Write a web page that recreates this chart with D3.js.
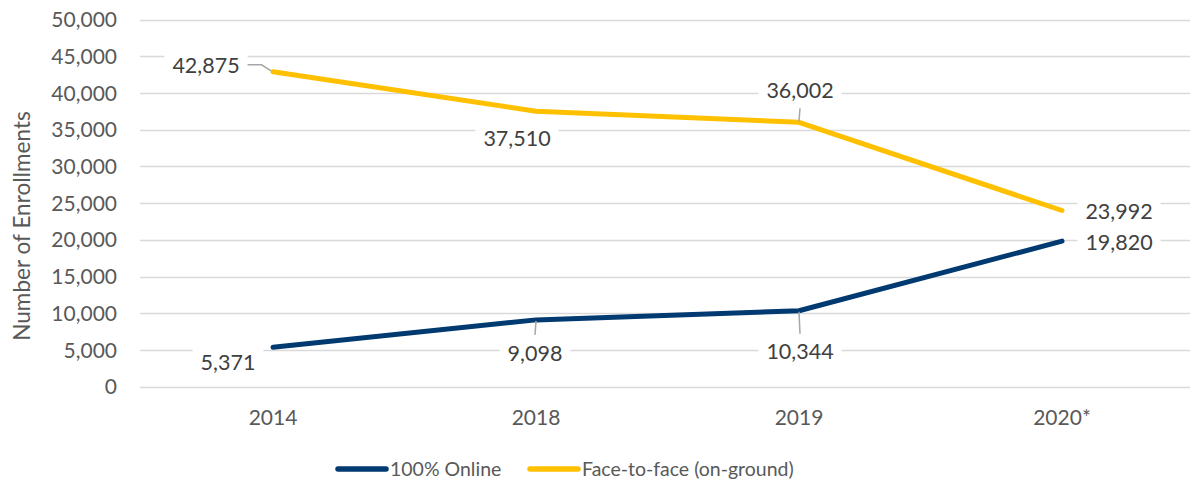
<!DOCTYPE html>
<html><head><meta charset="utf-8">
<script src="https://cdn.jsdelivr.net/npm/d3@7"></script>
<style>body{margin:0;background:#fff;} svg text{font-family:Lato,"Open Sans",sans-serif;}</style>
</head><body><svg id="c" width="1190" height="485"></svg>
<script>
const categories = ["2014", "2018", "2019", "2020*"];
const online = [5371, 9098, 10344, 19820];
const faceToFace = [42875, 37510, 36002, 23992];
const yTicks = [0, 5000, 10000, 15000, 20000, 25000, 30000, 35000, 40000, 45000, 50000];
const seriesNames = ["100% Online", "Face-to-face (on-ground)"];
const seriesColors = ["#003a70", "#ffc000"];

// label placement (layout only): offset of label centre from its point
const onlineLabelPlace = [{dx:-45,dy:15,leader:false},{dx:-1,dy:33,leader:true},{dx:1,dy:41,leader:true},{dx:57,dy:1,leader:false}];
const f2fLabelPlace = [{dx:-67,dy:-7,leader:true},{dx:-19,dy:27,leader:false},{dx:1,dy:-32,leader:true},{dx:57,dy:1,leader:false}];

const svg = d3.select("#c");
const gridLayer = svg.append("g");
const boxLayer = svg.append("g");
const lineLayer = svg.append("g");
const labelLayer = svg.append("g");
const x = d3.scaleBand().domain(categories).range([141.5, 1193.5]).padding(0);
const y = d3.scaleLinear().domain([0, 50000]).range([386.7, 19.5]);
const cx = c => x(c) + x.bandwidth() / 2;
const fmt = d3.format(",");

// gridlines
gridLayer.selectAll("line").data(yTicks).join("line")
  .attr("x1", 140).attr("x2", 1190)
  .attr("y1", d => Math.round(y(d)) + 0.5).attr("y2", d => Math.round(y(d)) + 0.5)
  .attr("stroke", "#d9d9d9").attr("stroke-width", 1.5);

// y tick labels
svg.append("g").selectAll("text").data(yTicks).join("text")
  .attr("x", 117).attr("y", d => y(d)).attr("dy", "0.36em")
  .attr("text-anchor", "end").attr("font-size", 21).attr("fill", "#595959")
  .text(d => fmt(d));

// x labels
svg.append("g").selectAll("text").data(categories).join("text")
  .attr("x", d => cx(d)).attr("y", 417).attr("dy", "0.36em")
  .attr("text-anchor", "middle").attr("font-size", 21).attr("fill", "#595959")
  .text(d => d);

// axis title
svg.append("text").attr("transform", "translate(22,226) rotate(-90)")
  .attr("dy", "0.36em").attr("text-anchor", "middle")
  .attr("font-size", 22.6).attr("fill", "#595959").text("Number of Enrollments");

const series = [online, faceToFace];
const places = [onlineLabelPlace, f2fLabelPlace];
const line = d3.line().x((d, i) => cx(categories[i])).y(d => y(d));

series.forEach((vals, si) => {
  lineLayer.append("path").datum(vals).attr("d", line)
    .attr("fill", "none").attr("stroke", seriesColors[si]).attr("stroke-width", 5)
    .attr("stroke-linejoin", "round").attr("stroke-linecap", "round");
});

// data labels
series.forEach((vals, si) => {
  vals.forEach((v, i) => {
    const p = places[si][i];
    const px = cx(categories[i]), py = y(v);
    const lx = px + p.dx, ly = py + p.dy;
    const t = labelLayer.append("text").attr("x", lx).attr("y", ly).attr("dy", "0.36em")
      .attr("text-anchor", "middle").attr("font-size", 21.5).attr("fill", "#404040").text(fmt(v));
    const bb = t.node().getBBox();
    const w = bb.width + 16, h = 36;
    boxLayer.append("rect").attr("fill", "#fff")
      .attr("x", lx - w / 2).attr("y", ly - h / 2).attr("width", w).attr("height", h);
    if (p.leader) {
      let pts;
      if (Math.abs(p.dy) > Math.abs(p.dx)) {
        const ey = p.dy > 0 ? ly - h / 2 : ly + h / 2;
        pts = [[lx, ey], [px, py + (p.dy > 0 ? 1 : -1)]];
      } else {
        const ex = p.dx < 0 ? lx + w / 2 : lx - w / 2;
        const bend = ex + (p.dx < 0 ? 14 : -14);
        pts = [[ex, ly], [bend, ly], [px - (p.dx < 0 ? 2 : -2), py - 1]];
      }
      lineLayer.append("path").attr("d", d3.line()(pts)).attr("fill", "none")
        .attr("stroke", "#a6a6a6").attr("stroke-width", 1.5);
    }
  });
});

// legend
const legendItems = [{x: 338, tx: 390}, {x: 530, tx: 582}];
seriesNames.forEach((n, i) => {
  const L = legendItems[i];
  svg.append("line").attr("x1", L.x).attr("x2", L.x + 48).attr("y1", 469).attr("y2", 469)
    .attr("stroke", seriesColors[i]).attr("stroke-width", 5.5).attr("stroke-linecap", "round");
  svg.append("text").attr("x", L.tx).attr("y", 469).attr("dy", "0.36em")
    .attr("font-size", 19.5).attr("fill", "#595959").text(n);
});
</script></body></html>
